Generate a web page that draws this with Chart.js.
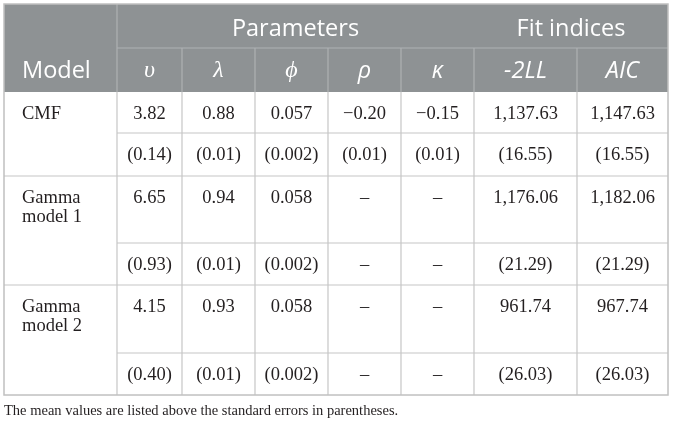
<!DOCTYPE html>
<html><head><meta charset="utf-8">
<script src="https://cdn.jsdelivr.net/npm/chart.js@4"></script>
<style>html,body{margin:0;padding:0;background:#fff}canvas{display:block}</style>
</head><body>
<canvas id="c" width="673" height="428"></canvas>
<script>
// ---- data ----
const modelNames = [["CMF"], ["Gamma", "model 1"], ["Gamma", "model 2"]];
const groupHeaders = ["Parameters", "Fit indices"];
const columnHeaders = ["υ", "λ", "ϕ", "ρ", "κ", "-2LL", "AIC"];
const decimals = [2, 2, 3, 2, 2, 2, 2];
const cmfMean    = [3.82, 0.88, 0.057, -0.20, -0.15, 1137.63, 1147.63];
const cmfSE      = [0.14, 0.01, 0.002, 0.01, 0.01, 16.55, 16.55];
const gamma1Mean = [6.65, 0.94, 0.058, null, null, 1176.06, 1182.06];
const gamma1SE   = [0.93, 0.01, 0.002, null, null, 21.29, 21.29];
const gamma2Mean = [4.15, 0.93, 0.058, null, null, 961.74, 967.74];
const gamma2SE   = [0.40, 0.01, 0.002, null, null, 26.03, 26.03];
const footnote = "The mean values are listed above the standard errors in parentheses.";

// ---- layout (scale units) ----
const colEdges = [4, 117, 182, 255, 328, 401, 474, 577, 668];
const rowEdges = [4, 48, 92, 133, 176, 243, 285, 353, 395];
const meanRows = [cmfMean, gamma1Mean, gamma2Mean];
const seRows = [cmfSE, gamma1SE, gamma2SE];

function fmt(v, d, paren) {
  if (v === null) return "–";
  const s = Math.abs(v).toLocaleString("en-US", {minimumFractionDigits: d, maximumFractionDigits: d});
  const t = (v < 0 ? "−" : "") + s;
  return paren ? "(" + t + ")" : t;
}

const serif = "'Liberation Serif', 'Times New Roman', serif";
const sans = "'Open Sans', 'Noto Sans', sans-serif";

const tablePlugin = {
  id: "table",
  afterDraw(chart) {
    const ctx = chart.ctx;
    const X = v => chart.scales.x.getPixelForValue(v);
    const Y = v => chart.scales.y.getPixelForValue(v);
    const L = colEdges.map(X), T = rowEdges.map(Y);
    ctx.save();
    // header background
    ctx.fillStyle = "#8e9294";
    ctx.fillRect(L[0], T[0], L[8] - L[0], T[2] - T[0]);
    // header lines
    ctx.strokeStyle = "#aeb1b3";
    ctx.lineWidth = 1.2;
    ctx.beginPath();
    ctx.moveTo(L[1], T[1]); ctx.lineTo(L[8], T[1]);
    ctx.moveTo(L[1], T[0]); ctx.lineTo(L[1], T[2]);
    for (let i = 2; i < 8; i++) { ctx.moveTo(L[i], T[1]); ctx.lineTo(L[i], T[2]); }
    ctx.stroke();
    // body lines
    ctx.strokeStyle = "#c6c6c6";
    ctx.beginPath();
    for (let i = 1; i < 8; i++) { ctx.moveTo(L[i], T[2]); ctx.lineTo(L[i], T[8]); }
    [3, 5, 7].forEach(r => { ctx.moveTo(L[1], T[r]); ctx.lineTo(L[8], T[r]); });
    [4, 6].forEach(r => { ctx.moveTo(L[0], T[r]); ctx.lineTo(L[8], T[r]); });
    ctx.stroke();
    // outer border
    ctx.strokeStyle = "#c0c0c0";
    ctx.lineWidth = 1.5;
    ctx.strokeRect(L[0], T[0], L[8] - L[0], T[8] - T[0]);

    // header text
    ctx.fillStyle = "#ffffff";
    ctx.textBaseline = "middle";
    ctx.textAlign = "center";
    ctx.font = "23.5px " + sans;
    ctx.fillText(groupHeaders[0], (L[1] + L[6]) / 2, T[0] + 25);
    ctx.fillText(groupHeaders[1], (L[6] + L[8]) / 2, T[0] + 25);
    ctx.textAlign = "left";
    ctx.fillText("Model", L[0] + 18, T[1] + 23);
    ctx.textAlign = "center";
    columnHeaders.forEach((h, i) => {
      ctx.font = i < 3 ? "italic 24px " + serif : "italic 23.5px " + sans;
      ctx.fillText(h, (L[i + 1] + L[i + 2]) / 2, T[1] + 23);
    });

    // body text
    ctx.fillStyle = "#231f20";
    ctx.font = "18.5px " + serif;
    modelNames.forEach((lines, m) => {
      const top = T[2 + m * 2];
      ctx.textAlign = "left";
      lines.forEach((s, k) => ctx.fillText(s, L[0] + 18, top + 22 + k * 19));
      ctx.textAlign = "center";
      meanRows[m].forEach((v, i) => ctx.fillText(fmt(v, decimals[i], false), (L[i + 1] + L[i + 2]) / 2, top + 22));
      const sTop = T[3 + m * 2], sBot = T[4 + m * 2];
      seRows[m].forEach((v, i) => ctx.fillText(fmt(v, decimals[i], true), (L[i + 1] + L[i + 2]) / 2, (sTop + sBot) / 2 + 1));
    });

    // footnote
    ctx.textAlign = "left";
    ctx.font = "14.5px " + serif;
    ctx.fillText(footnote, L[0], Y(411));
    ctx.restore();
  }
};

new Chart(document.getElementById("c"), {
  type: "scatter",
  data: { datasets: [{ data: [], pointRadius: 0 }] },
  options: {
    responsive: false,
    animation: false,
    events: [],
    layout: { padding: 0 },
    plugins: { legend: { display: false }, tooltip: { enabled: false } },
    scales: {
      x: { type: "linear", min: 0, max: 673, display: false },
      y: { type: "linear", min: 0, max: 428, reverse: true, display: false }
    }
  },
  plugins: [tablePlugin]
});
</script>
</body></html>
